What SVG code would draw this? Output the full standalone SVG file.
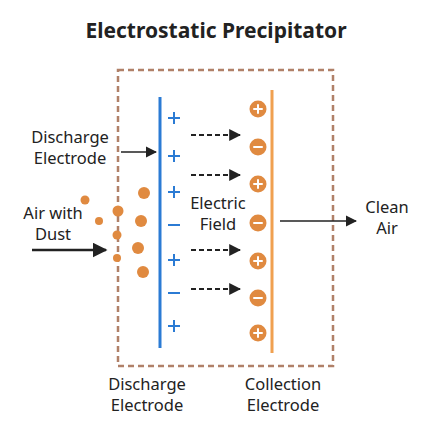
<svg xmlns="http://www.w3.org/2000/svg" width="434" height="434" viewBox="0 0 434 434">
<defs>
<style>
.t{font-family:"Noto Sans","Open Sans",sans-serif;font-size:16.5px;fill:#222;text-anchor:middle}
.title{font-family:"Noto Sans","Open Sans",sans-serif;font-size:21px;font-weight:bold;fill:#222;text-anchor:middle}
.dot{fill:#e08a40}
.chg{fill:#e08a40}
.sym{stroke:#fff;stroke-width:2;stroke-linecap:round}
.dash{stroke:#222;stroke-width:2;stroke-dasharray:5 3;fill:none}
.solid{stroke:#222;stroke-width:1.6;fill:none}
</style>
<marker id="ah" viewBox="0 0 10 10" refX="9" refY="5" markerWidth="6" markerHeight="6" orient="auto" markerUnits="strokeWidth"><path d="M0,0 L10,5 L0,10 z" fill="#222"/></marker>
<marker id="ahs" viewBox="0 0 10 10" refX="9" refY="5" markerWidth="7" markerHeight="7" orient="auto" markerUnits="strokeWidth"><path d="M0,0 L10,5 L0,10 z" fill="#222"/></marker>
<marker id="ahb" viewBox="0 0 10 10" refX="9" refY="5" markerWidth="6" markerHeight="6" orient="auto" markerUnits="strokeWidth"><path d="M0,0 L10,5 L0,10 z" fill="#222"/></marker>
</defs>
<rect width="434" height="434" fill="#fff"/>
<text class="title" x="216" y="38">Electrostatic Precipitator</text>
<g id="housing"><rect x="118" y="70" width="215" height="296" fill="none" stroke="#b08068" stroke-width="2.5" stroke-dasharray="6 4"/></g>
<g id="discharge-electrode">
<line x1="160" y1="97" x2="160" y2="348" stroke="#2b7bd4" stroke-width="3"/>
<g stroke="#2b7bd4" stroke-width="2">
<path d="M168,118h12M174,112v12"/>
<path d="M168,156h12M174,150v12"/>
<path d="M168,192h12M174,186v12"/>
<path d="M168,225h12"/>
<path d="M168,260h12M174,254v12"/>
<path d="M168,293h12"/>
<path d="M168,326h12M174,320v12"/>
</g>
</g>
<g id="collection-electrode">
<line x1="272" y1="90" x2="272" y2="353" stroke="#f0a050" stroke-width="3"/>
<g>
<circle class="chg" cx="258" cy="109" r="8.5"/><path class="sym" d="M254,109h8M258,105v8"/>
<circle class="chg" cx="258" cy="147" r="8.5"/><path class="sym" d="M254,147h8"/>
<circle class="chg" cx="258" cy="184" r="8.5"/><path class="sym" d="M254,184h8M258,180v8"/>
<circle class="chg" cx="258" cy="223" r="8.5"/><path class="sym" d="M254,223h8"/>
<circle class="chg" cx="258" cy="261" r="8.5"/><path class="sym" d="M254,261h8M258,257v8"/>
<circle class="chg" cx="258" cy="298" r="8.5"/><path class="sym" d="M254,298h8"/>
<circle class="chg" cx="258" cy="333" r="8.5"/><path class="sym" d="M254,333h8M258,329v8"/>
</g>
</g>
<g id="dust">
<circle class="dot" cx="85" cy="200" r="4.5"/>
<circle class="dot" cx="99" cy="221" r="4"/>
<circle class="dot" cx="118" cy="211" r="5.5"/>
<circle class="dot" cx="117" cy="235" r="4.5"/>
<circle class="dot" cx="117" cy="258" r="4"/>
<circle class="dot" cx="144" cy="193" r="6"/>
<circle class="dot" cx="141" cy="221" r="6"/>
<circle class="dot" cx="138" cy="248" r="6"/>
<circle class="dot" cx="143" cy="272" r="6"/>
</g>
<g id="connectors">
<line class="dash" x1="191" y1="135" x2="240" y2="135" marker-end="url(#ah)"/>
<line class="dash" x1="191" y1="175" x2="240" y2="175" marker-end="url(#ah)"/>
<line class="dash" x1="191" y1="250" x2="240" y2="250" marker-end="url(#ah)"/>
<line class="dash" x1="191" y1="289" x2="240" y2="289" marker-end="url(#ah)"/>
<line class="solid" x1="121" y1="152" x2="156" y2="152" marker-end="url(#ahs)"/>
<line x1="32" y1="250" x2="106" y2="250" stroke="#222" stroke-width="2.5" marker-end="url(#ahb)"/>
<line class="solid" x1="280" y1="221" x2="356" y2="221" marker-end="url(#ahs)"/>
</g>
<g id="labels">
<text class="t" x="70" y="143">Discharge</text>
<text class="t" x="70" y="164">Electrode</text>
<text class="t" x="53" y="219">Air with</text>
<text class="t" x="53" y="240">Dust</text>
<text class="t" x="218" y="209">Electric</text>
<text class="t" x="218" y="230">Field</text>
<text class="t" x="387" y="213">Clean</text>
<text class="t" x="387" y="234">Air</text>
<text class="t" x="147" y="390">Discharge</text>
<text class="t" x="147" y="411">Electrode</text>
<text class="t" x="283" y="390">Collection</text>
<text class="t" x="283" y="411">Electrode</text>
</g>
</svg>
